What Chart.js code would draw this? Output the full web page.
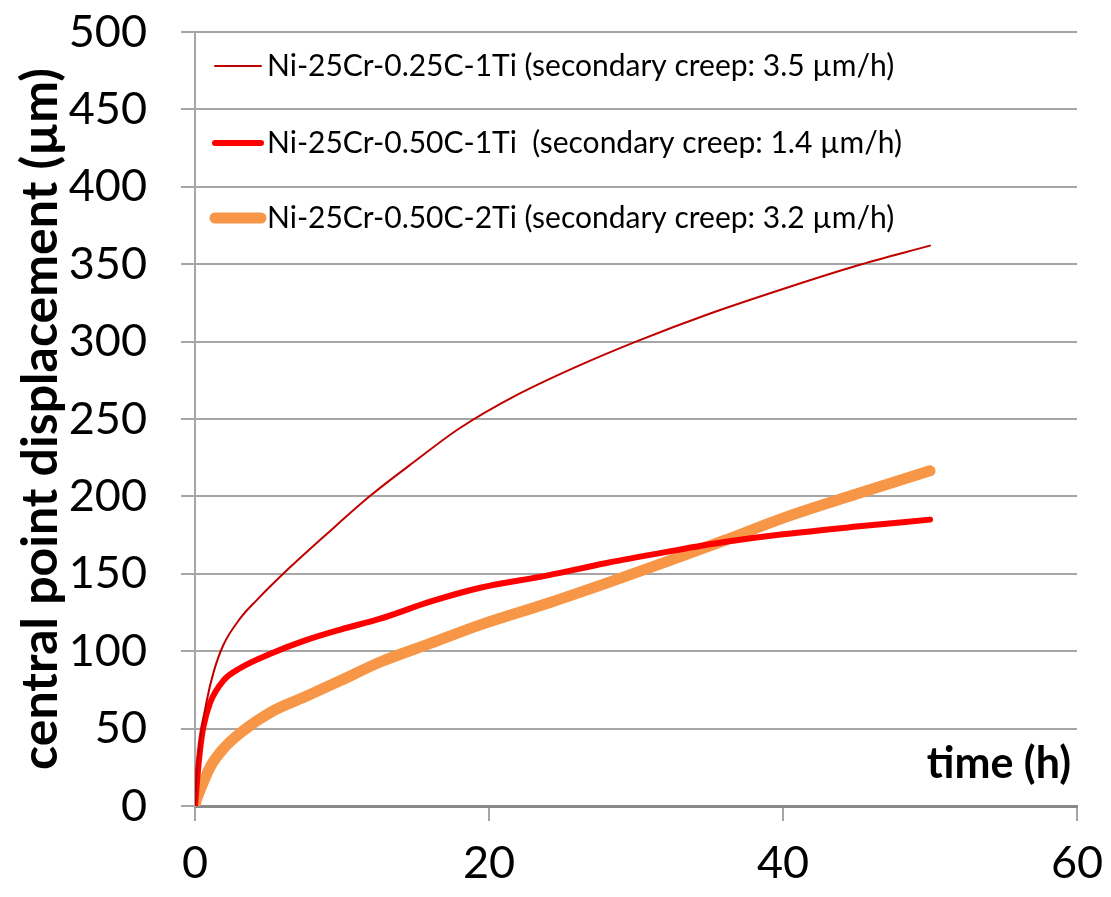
<!DOCTYPE html>
<html>
<head>
<meta charset="utf-8">
<script src="https://cdn.jsdelivr.net/npm/chart.js@4"></script>
<style>
  body { margin: 0; background: #fff; }
  #wrap { width: 1111px; height: 897px; }
</style>
</head>
<body>
<div id="wrap"><canvas id="creepChart" width="1111" height="897"></canvas></div>
<script>
// time (h) and displacement (µm)
const time025C1Ti = [0, 0.1, 0.34, 0.8, 1.25, 1.93, 3.06, 4.2, 6, 9, 12, 15, 18, 22, 26, 30, 35, 40, 45, 50];
const disp025C1Ti = [0, 18, 42, 68, 86, 104, 121, 133, 150, 176, 201, 223, 244, 266, 284, 300, 318, 334, 349, 362];

const time050C1Ti = [0, 0.1, 0.34, 0.57, 1.02, 1.93, 3.06, 5.3, 7.5, 9.9, 12.6, 16, 19.4, 24, 28, 32, 36, 40, 45, 50];
const disp050C1Ti = [0, 12, 36, 51, 66.5, 81, 89, 99, 107, 114, 121, 132, 141, 149, 157, 164, 170.5, 175.5, 180.5, 185];

const time050C2Ti = [0, 0.1, 0.34, 1.02, 1.93, 3.06, 5.33, 7.6, 9.9, 12.6, 16, 19.4, 24, 28, 32, 36, 40, 45, 50];
const disp050C2Ti = [0, 4, 10, 25, 37, 47, 61.5, 71, 81, 93, 105, 117, 131, 144, 157.5, 171.5, 186, 201.5, 216.5];

const seriesLabels = [
    'Ni-25Cr-0.25C-1Ti (secondary creep: 3.5 µm/h)',
    'Ni-25Cr-0.50C-1Ti  (secondary creep: 1.4 µm/h)',
    'Ni-25Cr-0.50C-2Ti (secondary creep: 3.2 µm/h)'
];
const seriesColors = ['#C00000', '#FF0000', '#F79646'];
const seriesWidths = [2, 6, 11];

const xTicks = [0, 20, 40, 60];
const yTicks = [0, 50, 100, 150, 200, 250, 300, 350, 400, 450, 500];

function toPoints(xs, ys) {
    return xs.map((x, i) => ({ x: x, y: ys[i] }));
}

const FONT = 'Lato, "Open Sans", sans-serif';
const GRID = '#A6A6A6';

// legend drawn inside the plot + the "time (h)" label
const insideLabels = {
    id: 'insideLabels',
    afterDatasetsDraw(chart) {
        const ctx = chart.ctx;
        const area = chart.chartArea;
        ctx.save();
        ctx.lineCap = 'round';
        ctx.textBaseline = 'middle';
        ctx.font = '30px ' + FONT;
        const rows = [66, 143, 218];
        chart.data.datasets.forEach((ds, i) => {
            const y = rows[i];
            ctx.strokeStyle = ds.borderColor;
            ctx.lineWidth = ds.borderWidth;
            ctx.beginPath();
            ctx.moveTo(area.left + 20, y);
            ctx.lineTo(area.left + 66, y);
            ctx.stroke();
            ctx.fillStyle = '#000';
            ctx.fillText(ds.label, area.left + 72, y);
        });
        ctx.font = 'bold 43px ' + FONT;
        ctx.textAlign = 'right';
        ctx.textBaseline = 'alphabetic';
        ctx.fillText('time (h)', area.right - 6, area.bottom - 28);
        ctx.restore();
    }
};

const ctx = document.getElementById('creepChart').getContext('2d');
new Chart(ctx, {
    type: 'line',
    data: {
        datasets: [
            { data: toPoints(time025C1Ti, disp025C1Ti) },
            { data: toPoints(time050C1Ti, disp050C1Ti) },
            { data: toPoints(time050C2Ti, disp050C2Ti) }
        ].map((ds, i) => Object.assign(ds, {
            label: seriesLabels[i],
            borderColor: seriesColors[i],
            backgroundColor: seriesColors[i],
            borderWidth: seriesWidths[i],
            borderCapStyle: 'round',
            borderJoinStyle: 'round',
            pointRadius: 0,
            fill: false,
            cubicInterpolationMode: 'monotone'
        }))
    },
    options: {
        responsive: false,
        animation: false,
        layout: { padding: { top: 32, right: 34, left: 0, bottom: 0 } },
        plugins: {
            legend: { display: false },
            tooltip: { enabled: false }
        },
        scales: {
            x: {
                type: 'linear',
                min: 0,
                max: 60,
                afterBuildTicks: (scale) => { scale.ticks = xTicks.map(v => ({ value: v })); },
                afterFit: (scale) => {
                    scale.height = 91;
                    scale.paddingLeft = 0;
                    scale.paddingRight = 0;
                },
                grid: { drawOnChartArea: false, drawTicks: true, tickLength: 15, color: GRID, lineWidth: 2 },
                border: { color: '#898989', width: 3 },
                ticks: { color: '#000', font: { family: FONT, size: 45 }, padding: 15 }
            },
            y: {
                min: 0,
                max: 500,
                afterBuildTicks: (scale) => { scale.ticks = yTicks.map(v => ({ value: v })); },
                afterFit: (scale) => {
                    scale.width = 195;
                    scale.paddingTop = 0;
                    scale.paddingBottom = 0;
                },
                grid: { color: GRID, lineWidth: 2, tickLength: 14 },
                border: { color: GRID, width: 2 },
                ticks: { color: '#000', font: { family: FONT, size: 45 }, padding: 34 },
                title: {
                    display: true,
                    text: 'central point displacement (µm)',
                    color: '#000',
                    font: { family: FONT, size: 50, weight: 'bold' },
                    padding: { top: 11, bottom: 0 }
                }
            }
        }
    },
    plugins: [insideLabels]
});
</script>
</body>
</html>
